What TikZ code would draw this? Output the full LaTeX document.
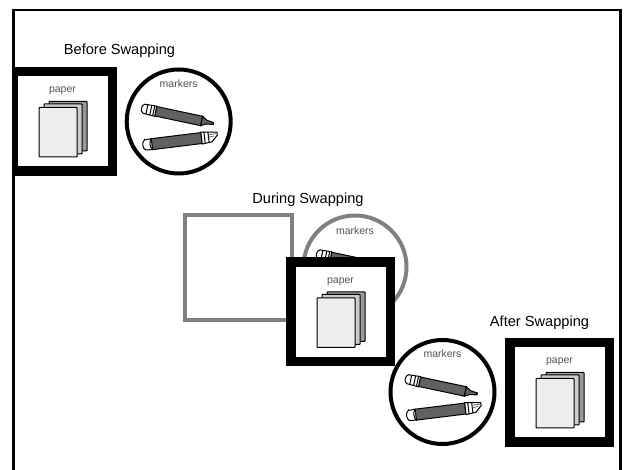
\documentclass[tikz,border=0pt]{standalone}
\usepackage{fontspec}
\setmainfont{Liberation Sans}
\definecolor{lab}{gray}{0.33}
\definecolor{ring}{gray}{0.5}
\tikzset{
  x=1pt,y=-1pt,
  frameline/.style={draw=black,line width=2.5pt},
  title/.style={inner sep=0pt,anchor=base,font=\fontsize{14.6}{16}\selectfont},
  label/.style={inner sep=0pt,anchor=base,text=lab,font=\fontsize{10.5}{12}\selectfont},
  sheet/.style={draw=black,line width=1pt,rounded corners=0.6pt},
  markerbody/.style={draw=black,line width=1pt,fill=black!62},
  markercap/.style={draw=black,line width=1pt,fill=white},
  pics/paperbox/.style={code={
    \draw[black,line width=9.5pt,fill=white] (-49.75,-49.75) rectangle (49.75,49.75);
    \node[label] at (0,-28.5) {paper};
    \draw[sheet,fill=black!40] (-13.5,-20) rectangle (24.5,29.5);
    \draw[sheet,fill=black!20] (-18.5,-17.5) rectangle (19.5,32.5);
    \draw[sheet,fill=black!7] (-23.5,-14) rectangle (14.5,35.5);
  }},
  pics/markera/.style={code={
    \draw[markerbody] (14,-4.8) -- (61,-4.8) -- (61,4.8) -- (14,4.8) -- cycle;
    \draw[markercap] (2,-4.6) -- (14,-5.2) -- (14,5.2) -- (2,4.6) .. controls (-1.5,3) and (-1.5,-3) .. cycle;
    \draw[black,line width=1pt] (5,-4.5) -- (5,4.5) (9,-4.8) -- (9,4.8) (12,-5) -- (12,5);
    \draw[markerbody] (61,-4.8) -- (66,-1.8) -- (73,-1) -- (73,1) -- (66,2) -- (61,4.8) -- cycle;
  }},
  pics/markerb/.style={code={
    \draw[markerbody] (7,-5.5) -- (57,-5.5) -- (57,5.5) -- (7,5.5) -- cycle;
    \draw[markercap] (0,-5) -- (7,-5.5) .. controls (4.5,-3) and (4.5,3) .. (7,5.5) -- (0,5) .. controls (-3,3) and (-3,-3) .. cycle;
    \draw[markercap] (57,-6) -- (73,-4) -- (73,-1) -- (67,5) -- (57,6) -- cycle;
    \draw[black,line width=1pt] (60,-6) -- (60,6) (64,-5.5) -- (64,5.5);
    \draw[black!60,line width=.8pt] (64,-2.5) -- (72,-2.5) (64,0) -- (70,-0.5);
  }},
  pics/markerset/.style={code={
    \node[label] at (0,-34) {markers};
    \pic[rotate=-12] at (-36.7,-13.2) {markera};
    \pic[rotate=7] at (-33.7,23.5) {markerb};
  }},
}
\begin{document}
\begin{tikzpicture}
\useasboundingbox (0,0) rectangle (627,470);
\fill[white] (0,0) rectangle (627,470);
\node[title] (tb) at (119.5,55) {Before Swapping};
\node[title] (td) at (308,204) {During Swapping};
\node[title] (ta) at (539.5,327) {After Swapping};
% before
\begin{scope}
\clip (13,0) rectangle (627,470);
\pic at (62.5,121.5) {paperbox};
\end{scope}
\draw[black,line width=4pt,fill=white] (178.7,121.5) circle (52);
\pic at (178.7,121.5) {markerset};
% during
\draw[ring,line width=4pt,fill=white] (185,215) rectangle (292,320);
\draw[ring,line width=4pt,fill=white] (355,267) circle (51.5);
\node[label] at (355,235) {markers};
\pic[rotate=-12] at (317,254) {markera};
\pic at (340.5,312) {paperbox};
% after
\draw[black,line width=4pt,fill=white] (442.5,392) circle (52);
\pic at (442.5,392) {markerset};
\pic at (559.5,392.5) {paperbox};
% frame
\draw[frameline] (13.5,470) -- (13.5,10) -- (620.3,10) -- (620.3,470);
\end{tikzpicture}
\end{document}
